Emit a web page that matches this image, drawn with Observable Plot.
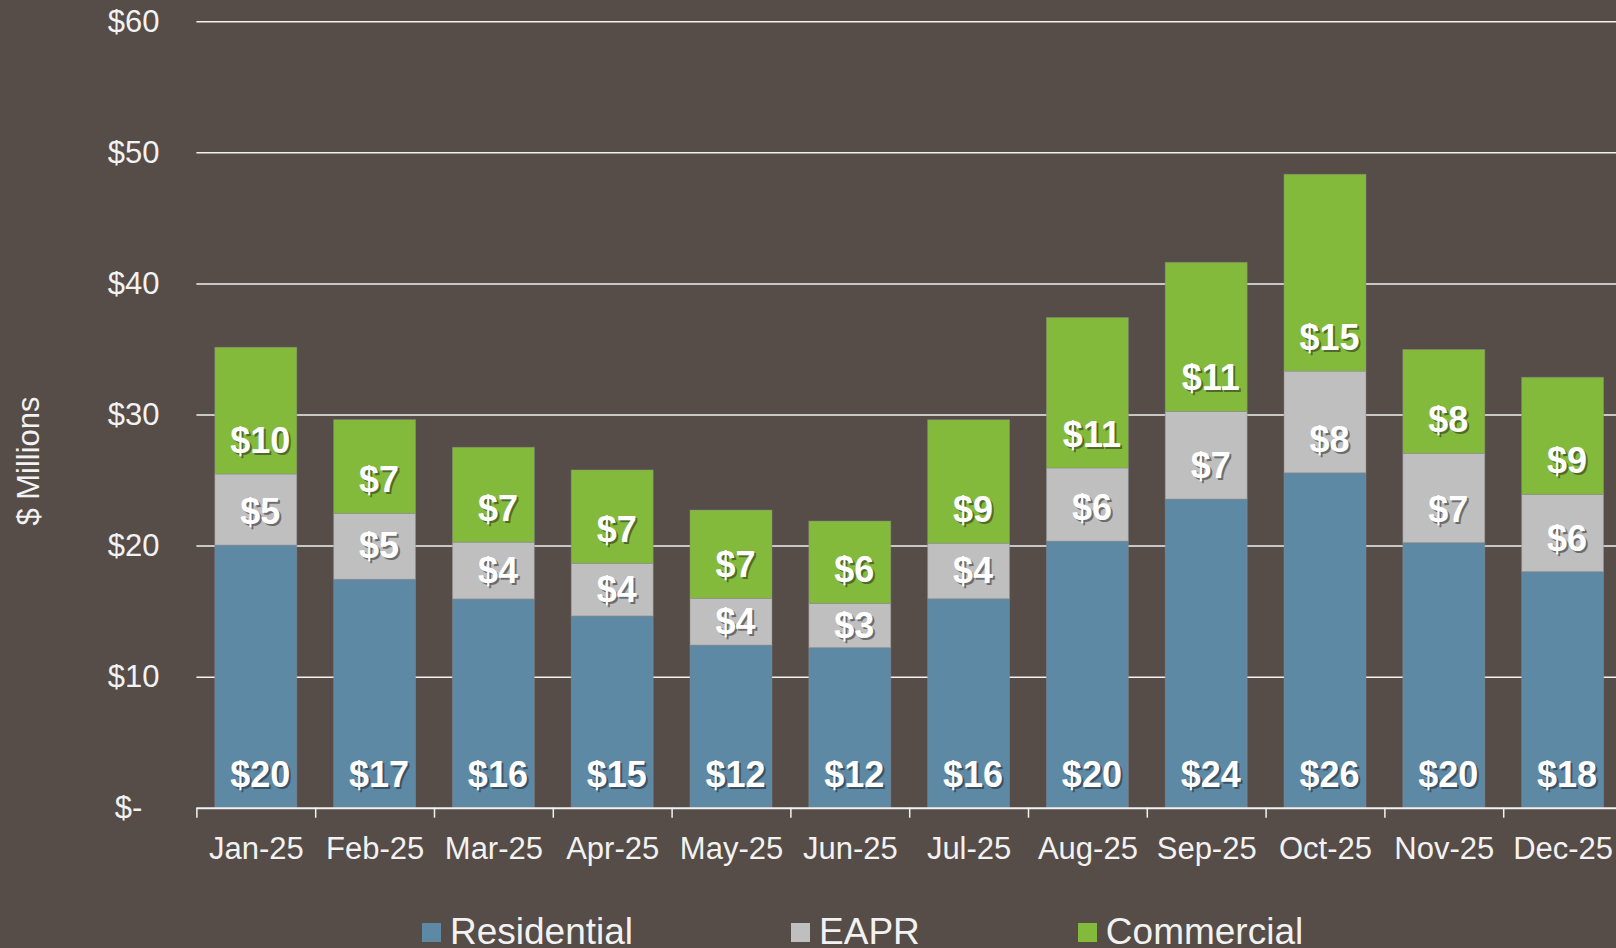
<!DOCTYPE html>
<html><head><meta charset="utf-8">
<script src="https://cdn.jsdelivr.net/npm/d3@7"></script>
<script src="https://cdn.jsdelivr.net/npm/@observablehq/plot@0.6"></script>
<style>
html,body{margin:0;padding:0;background:#564c48;overflow:hidden;width:1616px;height:948px}
#chart{position:absolute;left:0;top:0;width:1630px}
#chart svg{max-width:none !important}
#ytitle{position:absolute;left:28px;top:461px;transform:translate(-50%,-50%) rotate(-90deg);font-family:"Liberation Sans",Arial,sans-serif;font-size:31px;color:#f2f2f2;white-space:nowrap;line-height:31px}
#legend{position:absolute;top:913px;left:422px;display:flex;gap:158px;font-family:"Liberation Sans",Arial,sans-serif;font-size:37px;color:#f2f2f2;line-height:37px;white-space:nowrap}
.sw{display:inline-block;width:19px;height:19px;margin-right:9px;margin-bottom:2px;vertical-align:baseline}
</style></head><body>
<div id="chart"></div><div id="ytitle"></div><div id="legend"></div>
<script>
const months = ["Jan-25","Feb-25","Mar-25","Apr-25","May-25","Jun-25","Jul-25","Aug-25","Sep-25","Oct-25","Nov-25","Dec-25"];
const residential = [20.04, 17.43, 15.93, 14.63, 12.41, 12.21, 15.94, 20.34, 23.55, 25.55, 20.22, 18.01];
const eapr        = [5.42, 5.03, 4.33, 4.02, 3.57, 3.38, 4.24, 5.58, 6.69, 7.76, 6.82, 5.90];
const commercial  = [9.67, 7.15, 7.24, 7.12, 6.73, 6.28, 9.42, 11.48, 11.37, 15.02, 7.92, 8.93];
const seriesNames = ["Residential", "EAPR", "Commercial"];
const seriesColors = ["#5e89a5", "#bfbfbf", "#84ba3b"];
const yTicks = [0, 10, 20, 30, 40, 50, 60];
const yTitle = "$ Millions";

const FONT = '"Liberation Sans", Arial, sans-serif';
const W = 1630, H = 870, ML = 196.4, MR = 8, MT = 21.3, MB = 62.3;
const plotH = H - MT - MB;
const pxPerUnit = plotH / 60;
const lift = 33 / pxPerUnit;
const step = (W - ML - MR) / months.length;

const seriesArrays = [residential, eapr, commercial];
const rows = [];
months.forEach((m, i) => {
  let base = 0;
  seriesArrays.forEach((arr, s) => {
    const v = arr[i];
    rows.push({month: m, series: seriesNames[s], value: v, bottom: base, top: base + v,
      labelY: base + Math.min(v / 2, lift), label: "$" + Math.round(v)});
    base += v;
  });
});

const chart = Plot.plot({
  width: W, height: H, marginLeft: ML, marginRight: MR, marginTop: MT, marginBottom: MB,
  style: {background: "transparent", color: "#f2f2f2", fontFamily: FONT, fontSize: "31px", maxWidth: "none"},
  x: {domain: months, paddingInner: 0.31, paddingOuter: 0.155, align: 0.5, round: false, tickSize: 0, tickPadding: 28.5, label: null},
  y: {domain: [0, 60], ticks: yTicks, tickFormat: d => d === 0 ? "$-\u00A0\u00A0" : "$" + d, tickSize: 0, tickPadding: 37.4, label: null},
  color: {domain: seriesNames, range: seriesColors},
  marks: [
    Plot.ruleY(yTicks.filter(d => d > 0), {stroke: "#f2f2f2", strokeWidth: 1.5}),
    Plot.barY(rows, {x: "month", y1: "bottom", y2: "top", fill: "series", stroke: "#8c8c8c", strokeOpacity: 0.45, strokeWidth: 1}),
    Plot.ruleY([0], {stroke: "#f2f2f2", strokeWidth: 2}),
    Plot.ruleX(months, {x: d => d, y1: 0, y2: 0, dx: -step / 2, insetBottom: -10, stroke: "#f2f2f2", strokeWidth: 1.5}),
    Plot.text(rows, {x: "month", y: "labelY", text: "label", dx: 6, dy: 2, fill: "#1a1a1a", fillOpacity: 0.5, fontSize: 36, fontWeight: "bold", fontFamily: FONT}),
    Plot.text(rows, {x: "month", y: "labelY", text: "label", dx: 4, fill: "#ffffff", fontSize: 36, fontWeight: "bold", fontFamily: FONT})
  ]
});
chart.style.maxWidth = "none";
document.getElementById("chart").append(chart);
document.getElementById("ytitle").textContent = yTitle;

const legend = document.getElementById("legend");
seriesNames.forEach((name, i) => {
  const item = document.createElement("span");
  const sw = document.createElement("span");
  sw.className = "sw";
  sw.style.background = seriesColors[i];
  item.append(sw, document.createTextNode(name));
  legend.append(item);
});
</script></body></html>
